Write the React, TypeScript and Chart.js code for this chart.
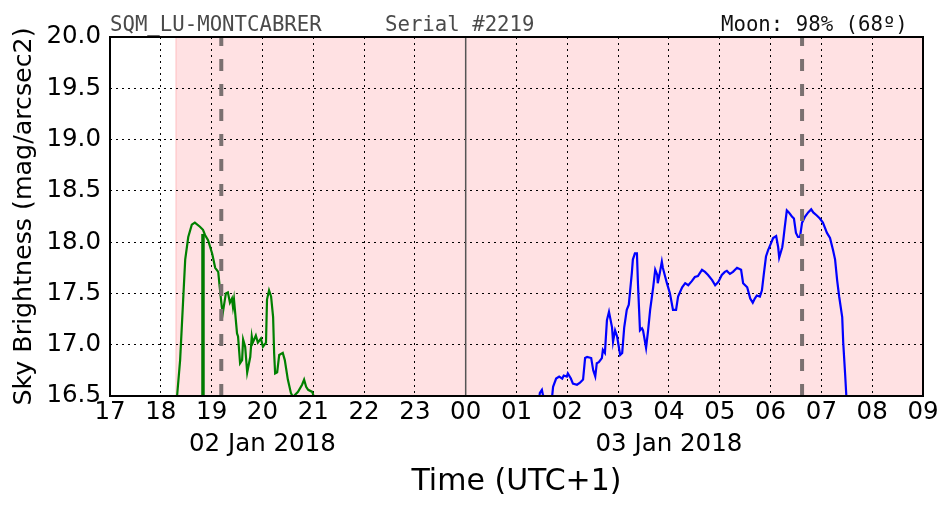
import React, { useEffect, useRef } from 'react';
import { Chart, registerables } from 'chart.js';

Chart.register(...registerables);

// ---- axis ticks ----
const hourTicks = [17, 18, 19, 20, 21, 22, 23, 24, 25, 26, 27, 28, 29, 30, 31, 32, 33];
const hourLabels = ['17', '18', '19', '20', '21', '22', '23', '00', '01', '02', '03', '04', '05', '06', '07', '08', '09'];
const dateTickHours = [20, 28];
const dateLabels = ['02 Jan 2018', '03 Jan 2018'];
const yTickValues = [16.5, 17.0, 17.5, 18.0, 18.5, 19.0, 19.5, 20.0];
const yTickLabels = ['16.5', '17.0', '17.5', '18.0', '18.5', '19.0', '19.5', '20.0'];
const yMin = 16.5;
const yMax = 20.0;
const xMin = 17;
const xMax = 33;

// ---- header texts ----
const headerLeft = 'SQM_LU-MONTCABRER';
const headerMid = 'Serial #2219';
const headerRight = 'Moon: 98% (68º)';

// ---- events (hours, 24 = midnight) ----
const nightStart = 18.3;
const moonEvents = [19.19, 30.62];
const midnight = 24;
const barTime = 18.83;
const barTop = 18.08;

// ---- series: 2 Jan evening (green) ----
const greenTimes = [
  18.28, 18.32, 18.38, 18.44, 18.48, 18.54, 18.61, 18.67, 18.77, 18.83,
  18.87, 18.93, 19.01, 19.07, 19.13, 19.16, 19.20, 19.22, 19.28, 19.32,
  19.36, 19.40, 19.42, 19.44, 19.50, 19.52, 19.56, 19.60, 19.62, 19.66,
  19.70, 19.76, 19.79, 19.81, 19.87, 19.91, 19.97, 20.01, 20.07, 20.09,
  20.13, 20.17, 20.21, 20.23, 20.25, 20.29, 20.33, 20.40, 20.44, 20.50,
  20.56, 20.60, 20.70, 20.78, 20.82, 20.86, 20.90, 20.98, 21.00, 21.03,
];
const greenValues = [
  16.30, 16.50, 16.85, 17.44, 17.83, 18.05, 18.17, 18.19, 18.15, 18.12,
  18.07, 18.02, 17.89, 17.75, 17.71, 17.56, 17.37, 17.31, 17.50, 17.51,
  17.41, 17.45, 17.37, 17.44, 17.11, 17.08, 16.82, 16.85, 17.05, 16.98,
  16.73, 16.88, 17.08, 17.02, 17.09, 17.02, 17.06, 16.98, 17.02, 17.44,
  17.53, 17.47, 17.27, 16.92, 16.72, 16.73, 16.90, 16.92, 16.85, 16.66,
  16.53, 16.49, 16.54, 16.61, 16.66, 16.59, 16.56, 16.54, 16.51, 16.40,
];

// ---- series: 3 Jan morning (blue) ----
const blueTimes = [
  25.40, 25.46, 25.50, 25.52, 25.60, 25.70, 25.72, 25.78, 25.84, 25.90,
  25.93, 25.99, 26.01, 26.07, 26.11, 26.19, 26.25, 26.31, 26.35, 26.39,
  26.47, 26.51, 26.55, 26.58, 26.62, 26.68, 26.70, 26.74, 26.78, 26.82,
  26.88, 26.90, 26.94, 26.98, 27.04, 27.08, 27.12, 27.17, 27.21, 27.27,
  27.29, 27.33, 27.37, 27.39, 27.43, 27.47, 27.49, 27.55, 27.59, 27.63,
  27.69, 27.73, 27.77, 27.78, 27.82, 27.86, 27.88, 27.96, 28.02, 28.08,
  28.14, 28.18, 28.26, 28.32, 28.38, 28.45, 28.51, 28.57, 28.65, 28.71,
  28.77, 28.85, 28.91, 28.97, 29.04, 29.10, 29.14, 29.20, 29.26, 29.34,
  29.42, 29.46, 29.54, 29.60, 29.65, 29.69, 29.73, 29.79, 29.83, 29.87,
  29.91, 29.95, 30.01, 30.05, 30.11, 30.15, 30.17, 30.23, 30.25, 30.28,
  30.32, 30.36, 30.42, 30.46, 30.50, 30.54, 30.58, 30.62, 30.68, 30.74,
  30.80, 30.84, 30.91, 30.97, 31.03, 31.11, 31.17, 31.23, 31.27, 31.31,
  31.35, 31.41, 31.43, 31.47, 31.49, 31.52,
];
const blueValues = [
  16.30, 16.53, 16.56, 16.51, 16.45, 16.49, 16.59, 16.67, 16.69, 16.67,
  16.70, 16.69, 16.72, 16.67, 16.62, 16.61, 16.63, 16.66, 16.87, 16.88,
  16.87, 16.75, 16.69, 16.82, 16.83, 16.87, 16.95, 16.92, 17.24, 17.32,
  17.17, 17.03, 17.14, 17.08, 16.90, 16.92, 17.17, 17.34, 17.39, 17.70,
  17.83, 17.89, 17.89, 17.60, 17.14, 17.16, 17.14, 16.97, 17.14, 17.34,
  17.56, 17.73, 17.68, 17.60, 17.70, 17.81, 17.75, 17.60, 17.50, 17.34,
  17.34, 17.47, 17.56, 17.60, 17.58, 17.62, 17.66, 17.67, 17.73, 17.71,
  17.68, 17.63, 17.58, 17.61, 17.68, 17.71, 17.72, 17.69, 17.71, 17.75,
  17.73, 17.60, 17.56, 17.45, 17.41, 17.45, 17.48, 17.47, 17.53, 17.70,
  17.86, 17.92, 17.99, 18.04, 18.06, 17.95, 17.85, 17.95, 18.02, 18.15,
  18.31, 18.29, 18.25, 18.23, 18.09, 18.05, 18.05, 18.19, 18.25, 18.29,
  18.32, 18.29, 18.26, 18.23, 18.19, 18.09, 18.04, 17.92, 17.83, 17.63,
  17.47, 17.27, 17.02, 16.69, 16.51, 16.30,
];

const FONT = "'DejaVu Sans', 'Liberation Sans', sans-serif";
const MONO = "'DejaVu Sans Mono', 'Liberation Mono', monospace";

const toPoints = (xs: number[], ys: number[]) => xs.map((x, i) => ({ x, y: ys[i] }));

const nightPlugin = {
  id: 'nightSpan',
  beforeDraw(chart: any) {
    const { ctx, chartArea, scales } = chart;
    const x0 = scales.x.getPixelForValue(nightStart);
    ctx.save();
    ctx.fillStyle = '#ffe1e3';
    ctx.fillRect(x0, chartArea.top, chartArea.right - x0, chartArea.bottom - chartArea.top);
    ctx.strokeStyle = '#ffc6c8';
    ctx.lineWidth = 1.2;
    ctx.beginPath();
    ctx.moveTo(x0, chartArea.top);
    ctx.lineTo(x0, chartArea.bottom);
    ctx.stroke();
    ctx.restore();
  },
};

const framePlugin = {
  id: 'frameAndHeader',
  afterDraw(chart: any) {
    const { ctx, chartArea } = chart;
    ctx.save();
    ctx.strokeStyle = '#000';
    ctx.lineWidth = 2;
    ctx.strokeRect(chartArea.left, chartArea.top, chartArea.right - chartArea.left, chartArea.bottom - chartArea.top);
    ctx.font = `20.7px ${MONO}`;
    ctx.textBaseline = 'alphabetic';
    ctx.textAlign = 'left';
    ctx.fillStyle = '#4a4a4a';
    ctx.fillText(headerLeft, chartArea.left, 31);
    ctx.fillText(headerMid, 385, 31);
    ctx.fillStyle = '#111';
    ctx.fillText(headerRight, 721, 31);
    ctx.restore();
  },
};

export default function App() {
  const ref = useRef<HTMLCanvasElement>(null);

  useEffect(() => {
    const canvas = ref.current;
    if (!canvas) return;
    const vline = (x: number, y0: number, y1: number) => [{ x, y: y0 }, { x, y: y1 }];
    const chart = new Chart(canvas, {
      type: 'scatter',
      data: {
        datasets: [
          {
            label: 'moon1',
            data: vline(moonEvents[0], yMax, yMin),
            showLine: true,
            borderColor: '#7a7070',
            borderWidth: 4,
            borderDash: [12, 13],
            borderDashOffset: 3,
            pointRadius: 0,
            order: 0,
            clip: 0,
          },
          {
            label: 'moon2',
            data: vline(moonEvents[1], yMax, yMin),
            showLine: true,
            borderColor: '#7a7070',
            borderWidth: 4,
            borderDash: [12, 13],
            borderDashOffset: 3,
            pointRadius: 0,
            order: 0,
            clip: 0,
          },
          {
            label: 'bar',
            data: vline(barTime, yMin - 0.2, barTop),
            showLine: true,
            borderColor: '#007a00',
            borderWidth: 3.5,
            pointRadius: 0,
            order: 1,
            clip: 0,
          },
          {
            label: 'green',
            data: toPoints(greenTimes, greenValues),
            showLine: true,
            borderColor: '#008000',
            borderWidth: 2.2,
            pointRadius: 0,
            tension: 0,
            order: 2,
            clip: 0,
          },
          {
            label: 'blue',
            data: toPoints(blueTimes, blueValues),
            showLine: true,
            borderColor: '#0000ff',
            borderWidth: 2.2,
            pointRadius: 0,
            tension: 0,
            order: 2,
            clip: 0,
          },
          {
            label: 'midnight',
            data: vline(midnight, yMin, yMax),
            showLine: true,
            borderColor: '#555555',
            borderWidth: 1.5,
            pointRadius: 0,
            order: 3,
            clip: 0,
          },
        ],
      },
      options: {
        responsive: false,
        animation: false,
        devicePixelRatio: 1,
        layout: { padding: { top: 37, right: 29, left: 0, bottom: 0 } },
        plugins: { legend: { display: false }, tooltip: { enabled: false } },
        scales: {
          x: {
            type: 'linear',
            min: xMin,
            max: xMax,
            afterFit: (s: any) => { s.height = 116; },
            afterBuildTicks: (s: any) => { s.ticks = hourTicks.map((v) => ({ value: v })); },
            ticks: {
              autoSkip: false,
              maxRotation: 0,
              minRotation: 0,
              padding: 1.5,
              color: '#000',
              font: { family: FONT, size: 24.5, lineHeight: 1.27 },
              callback: (v: any) => {
                const i = hourTicks.indexOf(Number(v));
                const d = dateTickHours.indexOf(Number(v));
                return d >= 0 ? [hourLabels[i], dateLabels[d]] : hourLabels[i];
              },
            },
            grid: { color: '#000', lineWidth: 1, drawTicks: false },
            border: { display: false, dash: [2, 4] },
            title: {
              display: true,
              text: 'Time (UTC+1)',
              color: '#000',
              font: { family: FONT, size: 30 },
              padding: { top: 0, bottom: 12 },
            },
          },
          y: {
            type: 'linear',
            min: yMin,
            max: yMax,
            afterFit: (s: any) => { s.width = 110; },
            afterBuildTicks: (s: any) => { s.ticks = yTickValues.map((v) => ({ value: v })); },
            ticks: {
              padding: 9,
              color: '#000',
              font: { family: FONT, size: 24.5 },
              callback: (v: any) => {
                const i = yTickValues.findIndex((t) => Math.abs(t - Number(v)) < 1e-6);
                return i >= 0 ? yTickLabels[i] : '';
              },
            },
            grid: { color: '#000', lineWidth: 1, drawTicks: false },
            border: { display: false, dash: [2, 4] },
            title: {
              display: true,
              text: 'Sky Brightness (mag/arcsec2)',
              color: '#000',
              font: { family: FONT, size: 25.3 },
              padding: { top: 9, bottom: 0 },
            },
          },
        },
      },
      plugins: [nightPlugin, framePlugin],
    } as any);
    return () => chart.destroy();
  }, []);

  return (
    <div style={{ position: 'absolute', left: 0, top: 0, width: 952, height: 512, background: '#fff' }}>
      <canvas ref={ref} width={952} height={512} style={{ display: 'block', width: 952, height: 512 }} />
    </div>
  );
}
